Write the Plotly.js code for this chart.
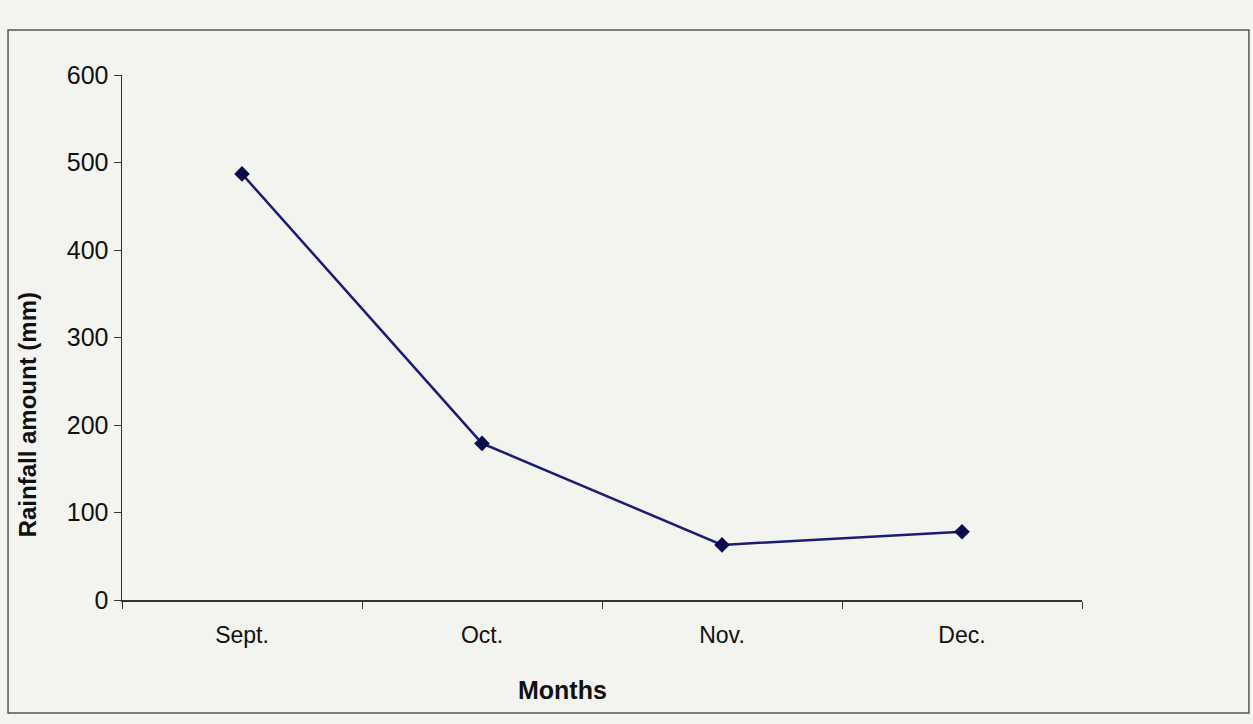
<!DOCTYPE html>
<html>
<head>
<meta charset="utf-8">
<script src="https://cdn.plot.ly/plotly-3.0.1.min.js"></script>
<style>
  html, body { margin: 0; padding: 0; background: #f3f3f0; }
  #chart { width: 1253px; height: 724px; }
</style>
</head>
<body>
<div id="chart"></div>
<script>
// Data
const months = ["Sept.", "Oct.", "Nov.", "Dec."];
const rainfall = [487, 179, 63, 78];
const yTicks = [0, 100, 200, 300, 400, 500, 600];

const trace = {
  x: months,
  y: rainfall,
  type: "scatter",
  mode: "lines+markers",
  line: { color: "#1c1c78", width: 2.5 },
  marker: { symbol: "diamond", size: 12, color: "#0c0c4a" },
  hoverinfo: "x+y"
};

const layout = {
  width: 1253,
  height: 724,
  margin: { l: 122, r: 171, t: 75, b: 124 },
  paper_bgcolor: "#f3f3f0",
  plot_bgcolor: "rgba(0,0,0,0)",
  showlegend: false,
  font: { family: "Liberation Sans, Arial, sans-serif", color: "#111" },
  xaxis: {
    type: "category",
    range: [-0.5, 3.5],
    tickson: "boundaries",
    ticks: "outside",
    ticklen: 7,
    tickcolor: "#333",
    ticklabelstandoff: 14,
    showline: true,
    linecolor: "#333",
    linewidth: 1.5,
    showgrid: false,
    zeroline: false,
    tickfont: { size: 23, family: "Liberation Sans, Arial, sans-serif", color: "#111" }
  },
  yaxis: {
    range: [0, 600],
    tickvals: yTicks,
    ticktext: yTicks.map(String),
    ticks: "outside",
    ticklen: 7,
    tickcolor: "#333",
    showline: true,
    linecolor: "#333",
    linewidth: 1.5,
    showgrid: false,
    zeroline: false,
    tickfont: { size: 25, family: "Liberation Sans, Arial, sans-serif", color: "#111" }
  },
  annotations: [
    {
      text: "<b>Rainfall amount (mm)</b>",
      xref: "paper", yref: "paper",
      x: -0.0988, y: 0.352,
      xanchor: "center", yanchor: "middle",
      textangle: -90,
      showarrow: false,
      font: { size: 24, color: "#111", family: "Liberation Sans, Arial, sans-serif" }
    },
    {
      text: "<b>Months</b>",
      xref: "paper", yref: "paper",
      x: 0.459, y: -0.171,
      xanchor: "center", yanchor: "middle",
      showarrow: false,
      font: { size: 25, color: "#111", family: "Liberation Sans, Arial, sans-serif" }
    }
  ],
  shapes: [
    {
      type: "rect",
      xref: "paper", yref: "paper",
      x0: -0.1187, x1: 1.1739,
      y0: -0.2152, y1: 1.0857,
      line: { color: "#555", width: 1.5 },
      fillcolor: "rgba(0,0,0,0)",
      layer: "below"
    }
  ]
};

Plotly.newPlot("chart", [trace], layout, { displayModeBar: false, staticPlot: true });
</script>
</body>
</html>
